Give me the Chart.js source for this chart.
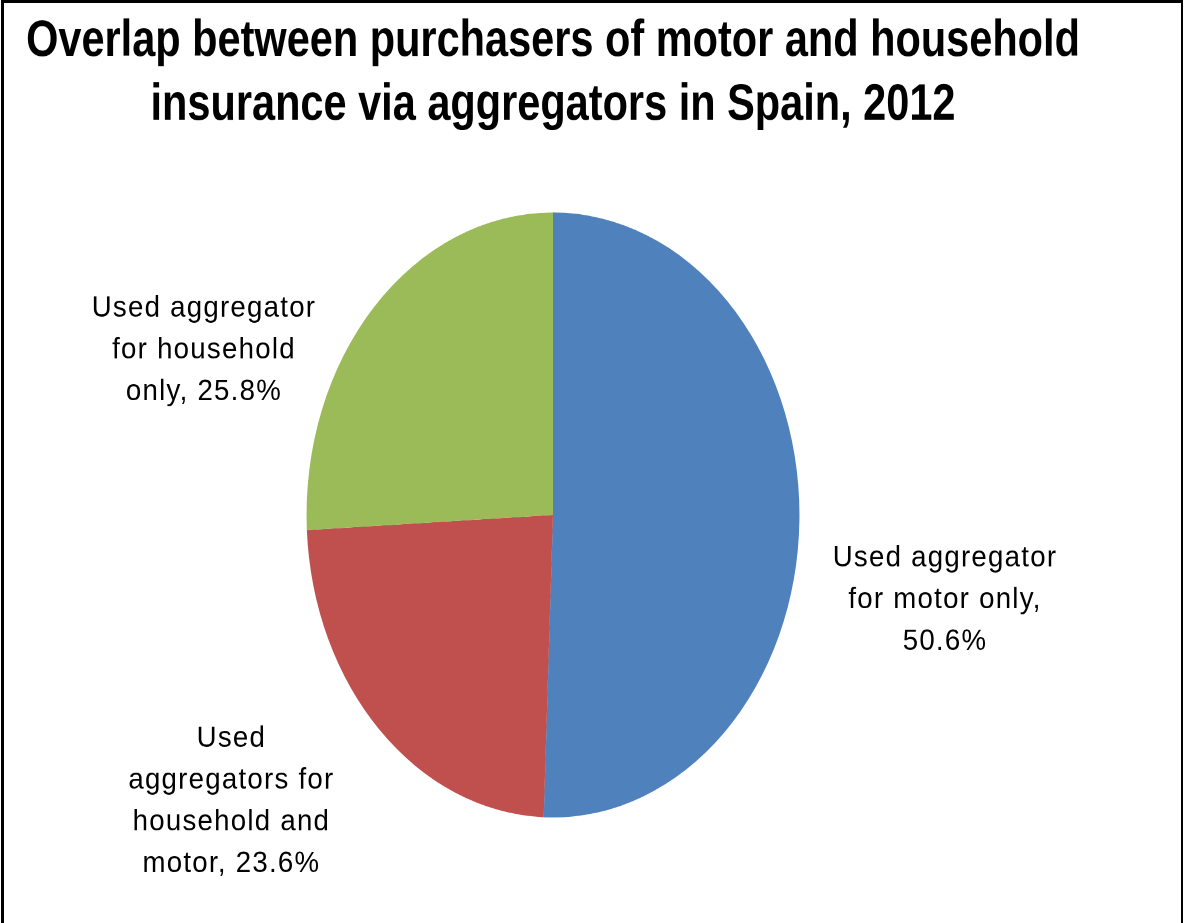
<!DOCTYPE html>
<html>
<head>
<meta charset="utf-8">
<script src="https://cdn.jsdelivr.net/npm/chart.js@4.4.1/dist/chart.umd.min.js"></script>
<style>
    html, body {
        margin: 0;
        padding: 0;
        background: #fff;
        width: 1184px;
        height: 923px;
        overflow: hidden;
    }
    /* the chart is drawn flat and then stretched vertically */
    .stage {
        position: absolute;
        left: 0;
        top: 0;
        width: 1184px;
        height: 752px;
        transform-origin: 0 0;
        transform: scaleY(1.2274);
    }
    .frame {
        position: absolute;
        left: 1px;
        top: 0;
        width: 1182px;
        height: 923px;
        box-sizing: border-box;
        border-top: 3px solid #000;
        border-left: 3px solid #000;
        border-right: 2px solid #000;
        pointer-events: none;
    }
</style>
</head>
<body>
<div class="stage"><canvas id="chart"></canvas></div>
<div class="frame"></div>

<script>
const titleLines = [
    "Overlap between purchasers of motor and household",
    "insurance via aggregators in Spain, 2012"
];
const categories = [
    "Used aggregator for motor only",
    "Used aggregators for household and motor",
    "Used aggregator for household only"
];
const shares = [50.6, 23.6, 25.8];
const sliceColors = ["#4F81BD", "#C0504D", "#9BBB59"];

// label block centre, relative to the arc edge at the slice's middle angle
const labelShift = [[145, 63], [-149, 56], [-171, 34]];

const LABEL_FONT = "24px 'Liberation Sans', Arial, sans-serif";
const LABEL_LINE = 34;
const LABEL_WRAP = 234;
const LABEL_WIDEN = 1.15; // labels are set a little wider than the font

function wrapText(ctx, text, maxWidth) {
    const words = text.split(" ");
    const lines = [];
    let line = "";
    words.forEach(w => {
        const test = line ? line + " " + w : w;
        if (line && ctx.measureText(test).width * LABEL_WIDEN > maxWidth) {
            lines.push(line);
            line = w;
        } else {
            line = test;
        }
    });
    if (line) lines.push(line);
    return lines;
}

const sliceLabels = {
    id: "sliceLabels",
    afterDatasetsDraw(chart) {
        const ctx = chart.ctx;
        const meta = chart.getDatasetMeta(0);
        ctx.save();
        ctx.font = LABEL_FONT;
        ctx.letterSpacing = "1.1px";
        ctx.fillStyle = "#000";
        ctx.textAlign = "center";
        ctx.textBaseline = "alphabetic";

        meta.data.forEach((arc, i) => {
            const p = arc.getProps(["x", "y", "startAngle", "endAngle", "outerRadius"], true);
            const mid = (p.startAngle + p.endAngle) / 2;
            const cx = p.x + Math.cos(mid) * p.outerRadius + labelShift[i][0];
            const cy = p.y + Math.sin(mid) * p.outerRadius + labelShift[i][1];

            const text = `${categories[i]}, ${shares[i].toFixed(1)}%`;
            const lines = wrapText(ctx, text, LABEL_WRAP);
            const first = cy - (lines.length - 1) * LABEL_LINE / 2 + 8.5;
            lines.forEach((ln, j) => {
                ctx.save();
                ctx.translate(cx, first + j * LABEL_LINE);
                ctx.scale(LABEL_WIDEN, 1);
                ctx.fillText(ln, 0.5, 0);
                ctx.restore();
            });
        });
        ctx.restore();
    }
};

new Chart(document.getElementById("chart"), {
    type: "pie",
    data: {
        labels: categories,
        datasets: [{
            data: shares,
            backgroundColor: sliceColors,
            borderWidth: 0
        }]
    },
    options: {
        responsive: true,
        maintainAspectRatio: false,
        animation: false,
        devicePixelRatio: 2,
        layout: {
            padding: { top: 0, left: 0, right: 78, bottom: 86 }
        },
        plugins: {
            legend: { display: false },
            tooltip: { enabled: false },
            title: {
                display: true,
                text: titleLines,
                color: "#000",
                font: {
                    family: "'Liberation Sans', Arial, sans-serif",
                    size: 41.5,
                    weight: "bold",
                    lineHeight: 1.254
                },
                padding: { top: 8, bottom: 61 }
            }
        }
    },
    plugins: [sliceLabels]
});
</script>
</body>
</html>
